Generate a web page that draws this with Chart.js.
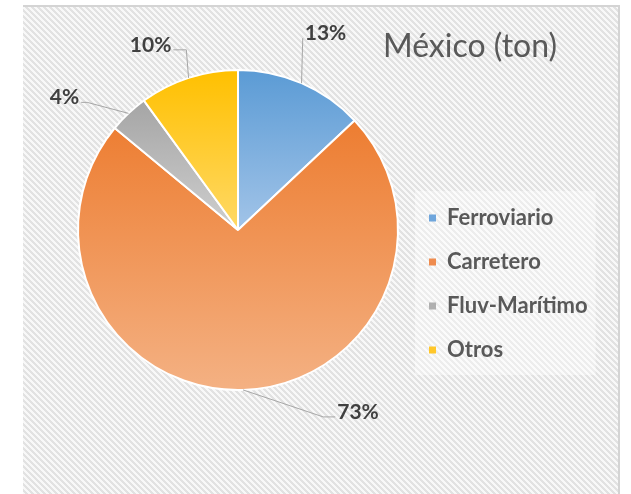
<!DOCTYPE html>
<html><head><meta charset="utf-8">
<script src="https://cdn.jsdelivr.net/npm/chart.js@4.4.1/dist/chart.umd.min.js"></script>
<style>html,body{margin:0;padding:0;background:#fff}canvas{display:block}</style>
</head><body>
<canvas id="c" width="631" height="494"></canvas>
<script>
// ---- data ----
const categories = ['Ferroviario', 'Carretero', 'Fluv-Marítimo', 'Otros'];
const shares = [13, 73, 4, 10];
const chartTitle = 'México (ton)';

// ---- styles ----
const topColors = ['#5B9BD5', '#ED7D31', '#A5A5A5', '#FFC000'];
const bottomColors = ['#A2C4E8', '#F4B183', '#CFCFCF', '#FFD966'];
const legendColors = ['#6FA6DC', '#EF8C4F', '#B0B0B0', '#FFC72A'];
const labelOffsets = [[24, -50], [115, 22], [-64, -16], [-38, -33]];
const leaderHooks = [0, 12, 6, 13];

const FONT = 'Lato';
const legendFontSize = 22, legendPad = 22, legendBox = 7;
const mc = document.createElement('canvas').getContext('2d');
mc.font = 'bold ' + legendFontSize + 'px ' + FONT;
const maxTextW = Math.max(...categories.map(t => mc.measureText(t).width));
const legendWidth = legendPad + legendBox + legendFontSize / 2 + maxTextW + 10;
const areaRight = 407;
const padRight = Math.max(0, 631 - areaRight - legendWidth);

const total = shares.reduce((a, b) => a + b, 0);
const pctText = shares.map(v => Math.round(v / total * 100) + '%');

function sliceFill(c) {
  const i = c.dataIndex;
  const ca = c.chart.chartArea;
  if (i === undefined || !ca) return topColors[i || 0];
  const cx = (ca.left + ca.right) / 2, cy = (ca.top + ca.bottom) / 2;
  const r = (Math.min(ca.right - ca.left, ca.bottom - ca.top) - 2) / 2;
  let before = 0;
  for (let k = 0; k < i; k++) before += shares[k];
  const a0 = -Math.PI / 2 + 2 * Math.PI * before / total;
  const a1 = a0 + 2 * Math.PI * shares[i] / total;
  const ys = [cy, cy + r * Math.sin(a0), cy + r * Math.sin(a1)];
  [-Math.PI / 2, Math.PI / 2, 3 * Math.PI / 2].forEach(k => { if (k >= a0 && k <= a1) ys.push(cy + r * Math.sin(k)); });
  const y0 = Math.min(...ys), y1 = Math.max(...ys);
  const g = c.chart.ctx.createLinearGradient(0, y0, 0, y1 > y0 ? y1 : y0 + 1);
  g.addColorStop(0, topColors[i]);
  g.addColorStop(1, bottomColors[i]);
  return g;
}

// hatched background tile
const tile = document.createElement('canvas');
tile.width = 6; tile.height = 6;
(function () {
  const t = tile.getContext('2d');
  for (let x = 0; x < 6; x++) for (let y = 0; y < 6; y++) {
    t.fillStyle = ((x - y + 12) % 6) < 3 ? '#E2E2E2' : '#F8F8F8';
    t.fillRect(x, y, 1, 1);
  }
})();

const framePlugin = {
  id: 'frame',
  beforeDraw(chart) {
    const ctx = chart.ctx;
    ctx.save();
    ctx.fillStyle = '#fff';
    ctx.fillRect(0, 0, chart.width, chart.height);
    ctx.fillStyle = ctx.createPattern(tile, 'repeat');
    ctx.fillRect(23, 5, 596, chart.height - 5);
    ctx.strokeStyle = '#D4D4D4';
    ctx.lineWidth = 2;
    ctx.beginPath();
    ctx.moveTo(23, 6); ctx.lineTo(619, 6); ctx.lineTo(619, chart.height);
    ctx.stroke();
    const hb = chart.legend && chart.legend.legendHitBoxes;
    if (hb && hb.length) {
      const x0 = Math.min(...hb.map(h => h.left)) - 14;
      const y0 = Math.min(...hb.map(h => h.top)) - 16;
      const x1 = Math.max(...hb.map(h => h.left + h.width)) + 8;
      const y1 = Math.max(...hb.map(h => h.top + h.height)) + 14;
      ctx.fillStyle = 'rgba(255,255,255,0.4)';
      ctx.fillRect(x0, y0, x1 - x0, y1 - y0);
    }
    ctx.restore();
  }
};

const titlePlugin = {
  id: 'sideTitle',
  afterDraw(chart) {
    const ctx = chart.ctx;
    ctx.save();
    ctx.font = '32px ' + FONT;
    ctx.fillStyle = '#595959';
    ctx.textAlign = 'center';
    ctx.textBaseline = 'middle';
    ctx.fillText(chartTitle, 470, 47);
    ctx.restore();
  }
};

const labelPlugin = {
  id: 'pctLabels',
  afterDatasetsDraw(chart) {
    const ctx = chart.ctx;
    const meta = chart.getDatasetMeta(0);
    ctx.save();
    ctx.font = 'bold 21px ' + FONT;
    ctx.textBaseline = 'middle';
    ctx.textAlign = 'center';
    meta.data.forEach((arc, i) => {
      const p = arc.getProps(['x', 'y', 'startAngle', 'endAngle', 'outerRadius'], true);
      const mid = (p.startAngle + p.endAngle) / 2;
      const ex = p.x + p.outerRadius * Math.cos(mid), ey = p.y + p.outerRadius * Math.sin(mid);
      const lx = ex + labelOffsets[i][0], ly = ey + labelOffsets[i][1];
      const w = ctx.measureText(pctText[i]).width;
      const right = lx > ex;
      const endX = right ? lx - w / 2 - 2 : lx + w / 2 + 2;
      const endY = ly + 5;
      const elbowX = right ? endX - leaderHooks[i] : endX + leaderHooks[i];
      ctx.strokeStyle = '#A6A6A6';
      ctx.lineWidth = 1;
      ctx.beginPath();
      ctx.moveTo(ex, ey); ctx.lineTo(elbowX, endY); ctx.lineTo(endX, endY);
      ctx.stroke();
      ctx.fillStyle = '#404040';
      ctx.fillText(pctText[i], lx, ly);
    });
    ctx.restore();
  }
};

new Chart(document.getElementById('c'), {
  type: 'pie',
  data: {
    labels: categories,
    datasets: [{
      data: shares,
      backgroundColor: sliceFill,
      borderColor: '#FFFFFF',
      borderWidth: 2
    }]
  },
  options: {
    responsive: false,
    animation: false,
    layout: { padding: { left: 69, top: 69, right: padRight, bottom: 103 } },
    plugins: {
      tooltip: { enabled: false },
      title: { display: false },
      legend: {
        position: 'right',
        align: 'start',
        title: { display: true, text: '', font: { size: 10, lineHeight: 1.2 }, padding: { top: 0, bottom: 104 } },
        labels: {
          boxWidth: legendBox,
          boxHeight: legendBox,
          padding: legendPad,
          color: '#595959',
          font: { family: FONT, size: legendFontSize, weight: 'bold' },
          generateLabels: (chart) => categories.map((t, i) => ({
            text: t, fillStyle: legendColors[i], strokeStyle: legendColors[i],
            lineWidth: 0, hidden: false, index: i, fontColor: '#595959'
          }))
        }
      }
    }
  },
  plugins: [framePlugin, labelPlugin, titlePlugin]
});
</script>
</body></html>
